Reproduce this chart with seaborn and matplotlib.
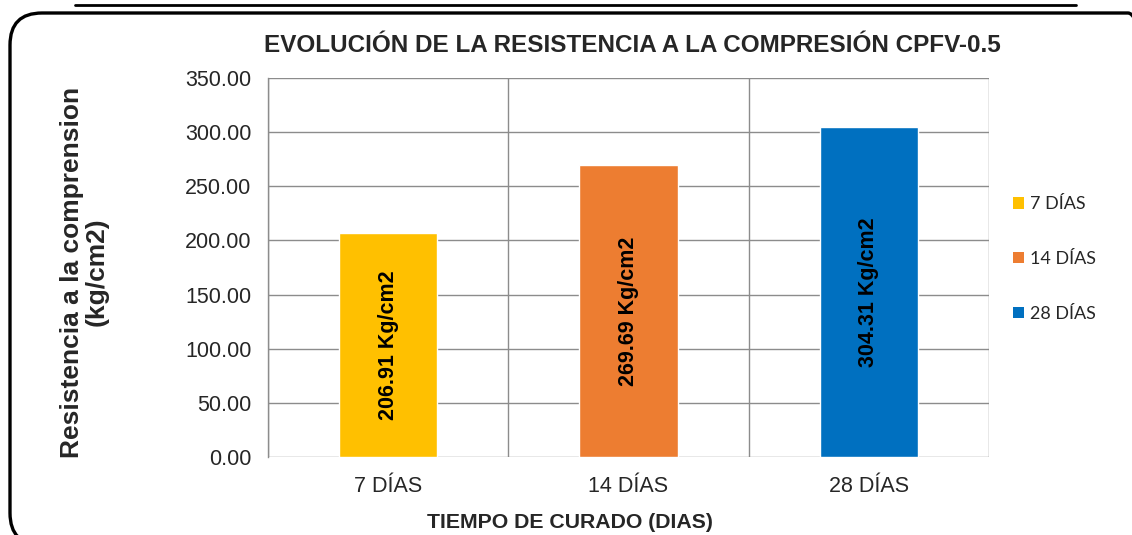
import matplotlib
matplotlib.use('Agg')
import matplotlib.pyplot as plt
import matplotlib.patches as mpatches
from matplotlib.lines import Line2D
from matplotlib.ticker import FormatStrFormatter, MultipleLocator
import pandas as pd
import seaborn as sns

# ── data ─────────────────────────────────────────────
categories = ['7 DÍAS', '14 DÍAS', '28 DÍAS']
resistencia = [206.91, 269.69, 304.31]
bar_labels = ['206.91 Kg/cm2', '269.69 Kg/cm2', '304.31 Kg/cm2']
colors = ['#FFC000', '#ED7D31', '#0070C0']

title = 'EVOLUCIÓN DE LA RESISTENCIA A LA COMPRESIÓN CPFV-0.5'
ylabel = 'Resistencia a la comprension\n(kg/cm2)'
xlabel = 'TIEMPO DE CURADO (DIAS)'

df = pd.DataFrame({'dias': categories, 'valor': resistencia})

sns.set_style('white')
plt.rcParams['font.family'] = ['Liberation Sans', 'DejaVu Sans']

W, H = 1132, 535
fig = plt.figure(figsize=(W / 100, H / 100), dpi=100)
ax = fig.add_axes([268 / W, 1 - 457 / H, (989 - 268) / W, (457 - 78) / H])

sns.barplot(data=df, x='dias', y='valor', hue='dias', palette=colors,
            width=0.41, dodge=False, legend=False, saturation=1, ax=ax)

ax.set_ylim(0, 350)
ax.set_xlim(-0.5, 2.5)
ax.yaxis.set_major_locator(MultipleLocator(50))
ax.yaxis.set_major_formatter(FormatStrFormatter('%.2f'))
ax.set_xticks([-0.5, 0.5, 1.5, 2.5], minor=True)

grid_c = '#8C8C8C'
ax.grid(axis='y', which='major', color=grid_c, lw=1)
ax.grid(axis='x', which='minor', color=grid_c, lw=1)
ax.set_axisbelow(True)
for side in ['top', 'right', 'bottom']:
    ax.spines[side].set_visible(False)
ax.spines['left'].set_color(grid_c)
ax.spines['left'].set_linewidth(1)

ax.tick_params(axis='y', which='major', length=6, color=grid_c, width=1,
               labelsize=15.5, pad=6)
ax.tick_params(axis='x', which='major', length=0, labelsize=15.5, pad=14)
ax.tick_params(axis='x', which='minor', length=6, color=grid_c, width=1)
ax.set_xlabel('')
ax.set_ylabel('')

for i, (v, lab) in enumerate(zip(resistencia, bar_labels)):
    ax.text(i, v / 2, lab, rotation=90, ha='center', va='center',
            fontsize=15.5, fontweight='bold', color='black')

fig.text(632 / W, 1 - 46 / H, title, ha='center', va='center',
         fontsize=17.5, fontweight='bold')
fig.text(84 / W, 1 - 272 / H, ylabel, ha='center', va='center',
         rotation=90, fontsize=19, fontweight='bold', linespacing=1.05)
fig.text(570 / W, 1 - 522 / H, xlabel, ha='center', va='center',
         fontsize=15.3, fontweight='bold')

handles = [mpatches.Patch(facecolor=c, edgecolor='none', label=n)
           for c, n in zip(colors, categories)]
fig.legend(handles=handles, loc='center left',
           bbox_to_anchor=(997 / W, 1 - 259 / H),
           frameon=False, handlelength=0.6, handleheight=0.6,
           handletextpad=0.3, labelspacing=2.15,
           prop={'family': 'Lato', 'size': 13})

# rounded frame (runs off the right and bottom edges) and top rule
frame = mpatches.FancyBboxPatch((10 / W, -10 / H), 1150 / W, (H - 13 + 10) / H,
                                boxstyle=f'round,pad=0,rounding_size={32 / W}',
                                mutation_aspect=W / H,
                                transform=fig.transFigure, figure=fig,
                                facecolor='none', edgecolor='black', lw=2.4)
fig.patches.append(frame)
fig.lines.append(Line2D([75 / W, 1076 / W], [1 - 5 / H, 1 - 5 / H],
                        transform=fig.transFigure, color='black', lw=2))

fig.savefig('out.png', dpi=100)
